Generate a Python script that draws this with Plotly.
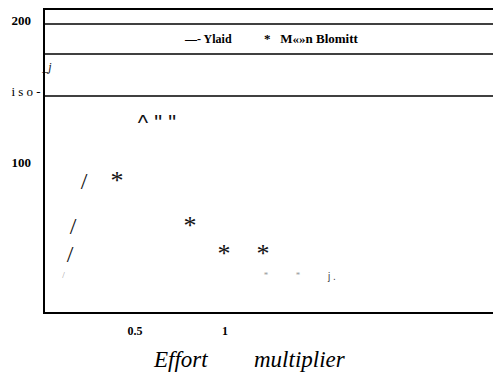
import plotly.graph_objects as go

# ---- data ----
series_names = ["Ylaid", "M\u00ab\u00bbn Blomitt"]

ylaid_x = [0.217, 0.156, 0.139]
ylaid_y = [85.4, 53.6, 34.0]
ylaid_faint_x = [0.103]
ylaid_faint_y = [20.0]

blomitt_x = [0.400, 0.806, 0.994, 1.211]
blomitt_y = [86.0, 54.0, 34.6, 34.6]
blomitt_faint_x = [1.228, 1.406]
blomitt_faint_y = [20.0, 20.0]

stray_text = ["j .", "^ \" \"", "<i>_j</i>"]
stray_x = [1.594, 0.622, 0.010]
stray_y = [19.2, 126.3, 166.4]

x_tickvals = [0.5, 1]
x_ticktext = ["<b>0.5</b>", "<b>1</b>"]
y_tickvals = [100, 150, 200]
y_ticktext = ["<b>100</b>\u00a0\u00a0\u00a0", "i s o -", "<b>200</b>\u00a0\u00a0\u00a0"]

x_title_words = ["Effort", "multiplier"]

SERIF = "Liberation Serif"
SANS = "Liberation Sans"

fig = go.Figure()
def text_trace(xs, ys, txt, family, size, color):
    fig.add_trace(go.Scatter(x=xs, y=ys, mode="text", text=txt, cliponaxis=False,
                             textposition="middle center",
                             textfont=dict(family=family, size=size, color=color),
                             showlegend=False, hoverinfo="skip"))

text_trace(ylaid_x, ylaid_y, ["/"] * len(ylaid_x), SERIF, 24, "#111")
text_trace(ylaid_faint_x, ylaid_faint_y, ["/"] * len(ylaid_faint_x), SERIF, 9, "#999")
text_trace(blomitt_x, blomitt_y, ["*"] * len(blomitt_x), SERIF, 26, "#111")
text_trace(blomitt_faint_x, blomitt_faint_y, ["*"] * len(blomitt_faint_x), SERIF, 9, "#999")
text_trace(stray_x[:1], stray_y[:1], stray_text[:1], SANS, 10, "#444")
text_trace(stray_x[1:2], stray_y[1:2], stray_text[1:2], SANS, 22, "#111")
text_trace(stray_x[2:], stray_y[2:], stray_text[2:], SERIF, 12, "#111")

line = dict(color="black", width=1.5)
shapes = []
for yp in [0.9536, 0.8543, 0.7152]:
    shapes.append(dict(type="line", xref="paper", yref="paper", x0=0, x1=1, y0=yp, y1=yp, line=line))

def ann(text, xp, yp, size, family=SERIF):
    return dict(text=text, xref="paper", yref="paper", x=xp, y=yp, xanchor="center", yanchor="middle",
                showarrow=False, font=dict(family=family, size=size, color="black"))

annotations = [
    ann("<b>\u2014- " + series_names[0] + "</b>", (208 - 45) / 448, 0.904, 12),
    ann("<b>*\u00a0\u00a0\u00a0" + series_names[1] + "</b>", (311 - 45) / 448, 0.904, 13),
    ann("<i>" + x_title_words[0] + "</i>", (180 - 45) / 448, -0.156, 23),
    ann("<i>" + x_title_words[1] + "</i>", (300 - 45) / 448, -0.156, 23),
]

fig.update_layout(
    width=493, height=373,
    margin=dict(l=45, r=0, t=10, b=61),
    paper_bgcolor="white", plot_bgcolor="white",
    showlegend=False,
    shapes=shapes,
    annotations=annotations,
    font=dict(family=SERIF, size=11, color="black"),
)
fig.update_xaxes(range=[0, 448 / 180], tickvals=x_tickvals, ticktext=x_ticktext,
                 showgrid=False, zeroline=False, showline=True, linecolor="black", linewidth=1.5,
                 mirror=True, ticks="", ticklabelstandoff=7,
                 tickfont=dict(family=SERIF, size=12, color="black"))
fig.update_yaxes(range=[-5.42, 207.25], tickvals=y_tickvals, ticktext=y_ticktext,
                 showgrid=False, zeroline=False, showline=True, linecolor="black", linewidth=1.5,
                 ticks="", ticklabelstandoff=0,
                 tickfont=dict(family=SERIF, size=13, color="black"))

fig.write_html("out.html")
